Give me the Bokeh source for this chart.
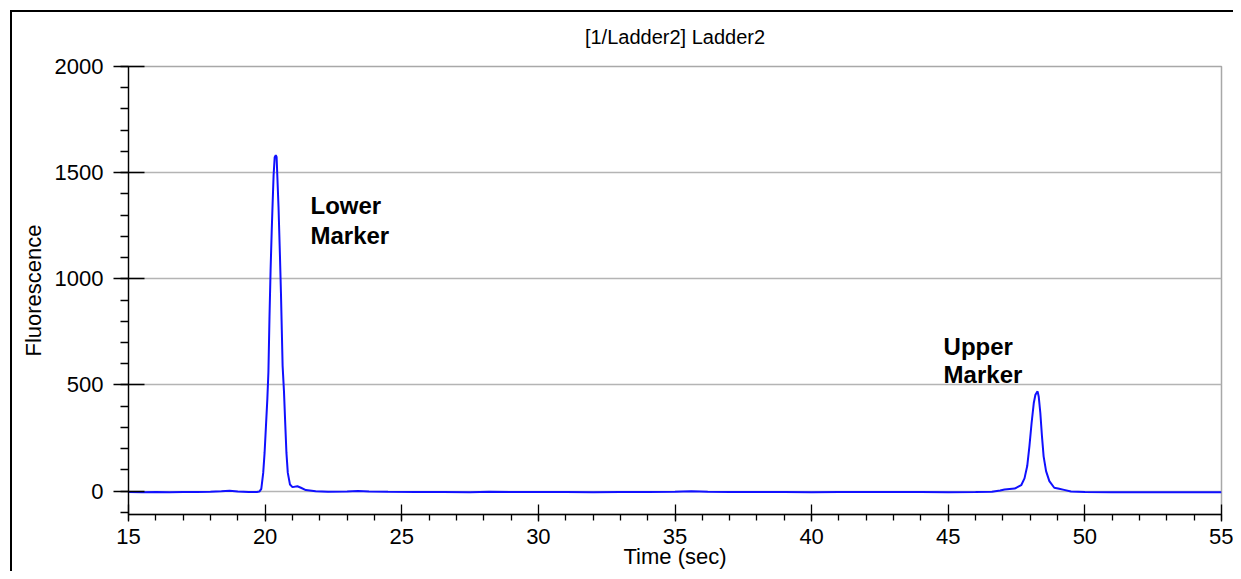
from bokeh.plotting import figure
from bokeh.models import SingleIntervalTicker, Label, Range1d
from bokeh.embed import file_html
from bokeh.resources import INLINE

# ---- data ----
time_sec = [15.0, 15.5, 16.0, 16.5, 17.0, 17.5, 18.0, 18.4, 18.7, 19.0, 19.4, 19.7,
            19.79, 19.86, 19.93, 19.98, 20.03, 20.08, 20.12, 20.16, 20.20, 20.24, 20.27,
            20.31, 20.35, 20.39, 20.42, 20.49, 20.54, 20.58, 20.61, 20.64, 20.69, 20.73,
            20.78, 20.83, 20.91, 21.0, 21.18, 21.31, 21.49, 21.85, 22.3,
            23.0, 23.4, 23.8, 24.5, 25.5, 26.5, 27.5, 28.2, 29.0, 30.0, 31.0, 32.0,
            33.0, 34.0, 35.0, 35.6, 36.2, 37.0, 38.0, 39.0, 40.0, 41.0, 42.0, 43.0,
            44.0, 45.0, 46.0, 46.6, 46.9, 47.06, 47.43, 47.67, 47.79, 47.89, 47.97,
            48.05, 48.13, 48.19, 48.24, 48.27, 48.31, 48.37, 48.43, 48.49, 48.58,
            48.70, 48.88, 49.06, 49.24, 49.49, 50.0, 51.0, 52.0, 53.0, 54.0, 55.0]
fluorescence = [-4, -5, -4, -5, -4, -4, -3, -1, 2, -2, -4, -4,
                -2, 11, 86, 180, 305, 431, 560, 822, 1042, 1220, 1339,
                1488, 1573, 1582, 1574, 1339, 1120, 930, 760, 590, 470, 337,
                180, 86, 31, 19, 23, 16, 5, 0, -3,
                -2, 1, -2, -3, -4, -4, -5, -3, -4, -4, -4, -5,
                -4, -4, -3, 0, -3, -4, -4, -4, -5, -4, -4, -4,
                -4, -5, -4, -3, 3, 8, 12, 28, 60, 118, 211,
                321, 415, 454, 465, 470, 446, 368, 258, 164, 94,
                47, 16, 11, 6, -2, -4, -5, -5, -5, -5, -5]

x_limits = [15, 55]
y_limits = [-110, 2000]
x_tick_step = 5
y_tick_step = 500

chart_title = "[1/Ladder2] Ladder2"
peak_labels = [["Lower", "Marker"], ["Upper", "Marker"]]

# ---- figure ----
p = figure(width=1233, height=571, output_backend="svg", toolbar_location=None,
           title=chart_title,
           x_range=Range1d(*x_limits), y_range=Range1d(*y_limits),
           min_border_left=128, min_border_right=12, min_border_top=66,
           min_border_bottom=56)

# outer window frame: black left/top edges drawn as a CSS background behind a transparent border area
p.border_fill_color = None
p.styles = {
    "background": ("linear-gradient(#000,#000) 10px 10px / 2px 100% no-repeat, "
                   "linear-gradient(#000,#000) 10px 10px / 100% 2px no-repeat, #ffffff"),
}

p.title.align = "center"
p.title.text_font = "Liberation Sans"
p.title.text_font_size = "20px"
p.title.text_font_style = "normal"
p.title.text_color = "#000000"
p.title.standoff = 38

p.outline_line_color = "#a8a8a8"
p.outline_line_width = 1.5
p.background_fill_color = "white"

p.xgrid.visible = False
p.ygrid.grid_line_color = "#b4b4b4"
p.ygrid.grid_line_width = 1.3

p.xaxis.ticker = SingleIntervalTicker(interval=x_tick_step, num_minor_ticks=5)
p.yaxis.ticker = SingleIntervalTicker(interval=y_tick_step, num_minor_ticks=5)

for ax in (p.xaxis[0], p.yaxis[0]):
    ax.axis_line_color = "#000000"
    ax.axis_line_width = 1.3
    ax.major_tick_line_color = "#000000"
    ax.minor_tick_line_color = "#000000"
    ax.major_tick_line_width = 1.3
    ax.minor_tick_line_width = 1.3
    ax.major_label_text_font = "Liberation Sans"
    ax.major_label_text_font_size = "22px"
    ax.major_label_text_color = "#000000"
    ax.axis_label_text_font = "Liberation Sans"
    ax.axis_label_text_font_size = "22px"
    ax.axis_label_text_font_style = "normal"
    ax.axis_label_text_color = "#000000"

p.xaxis.axis_label = "Time (sec)"
p.xaxis.major_tick_in = 10
p.xaxis.major_tick_out = 7
p.xaxis.minor_tick_in = 0
p.xaxis.minor_tick_out = 6
p.xaxis.major_label_standoff = 7
p.xaxis.axis_label_standoff = -3

p.yaxis.axis_label = "Fluorescence"
p.yaxis.major_tick_in = 16
p.yaxis.major_tick_out = 15
p.yaxis.minor_tick_in = 0
p.yaxis.minor_tick_out = 8
p.yaxis.major_label_standoff = 10
p.yaxis.axis_label_standoff = 6

p.line(time_sec, fluorescence, line_color="#1010ff", line_width=2)

label_pos = [(21.66, 1347, 1206), (44.83, 681, 548)]
for (words, (lx, y1, y2)) in zip(peak_labels, label_pos):
    for word, ly in zip(words, (y1, y2)):
        p.add_layout(Label(x=lx, y=ly, text=word, text_font="Liberation Sans",
                           text_font_size="24px", text_font_style="bold",
                           text_color="#000000", text_baseline="alphabetic"))

open("out.html", "w").write(file_html(p, INLINE))
